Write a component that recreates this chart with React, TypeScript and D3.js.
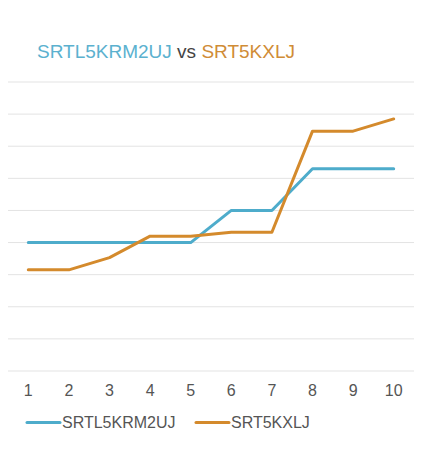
import { useEffect, useRef } from 'react';
import * as d3 from 'd3';

const categories = ['1', '2', '3', '4', '5', '6', '7', '8', '9', '10'];
const seriesA = [4, 4, 4, 4, 4, 5, 5, 6.3, 6.3, 6.3];
const seriesB = [3.15, 3.15, 3.53, 4.2, 4.2, 4.32, 4.32, 7.47, 7.47, 7.85];
const seriesNames = ['SRTL5KRM2UJ', 'SRT5KXLJ'];
const seriesColors = ['#4eaccb', '#d48a2c'];
const gridTicks = d3.range(0, 10);

export default function App() {
  const ref = useRef<SVGSVGElement>(null);

  useEffect(() => {
    if (!ref.current) return;
    const svg = d3.select(ref.current);
    svg.selectAll('*').remove();

    const width = 442;
    const height = 467;
    const font = '"Liberation Sans", Arial, sans-serif';

    const x = d3.scaleBand().domain(categories).range([8, 414]);
    const y = d3.scaleLinear().domain([0, 9]).range([371, 82]);

    svg.attr('width', width).attr('height', height);
    svg.append('rect').attr('width', width).attr('height', height).attr('fill', '#fff');

    // titulo
    const title = svg.append('text')
      .attr('x', 37)
      .attr('y', 58)
      .style('font-family', font)
      .style('font-size', '19px');
    title.append('tspan').attr('fill', '#5bb1cf').text(seriesNames[0]);
    title.append('tspan').attr('fill', '#444').text(' vs ');
    title.append('tspan').attr('fill', '#d08c36').text(seriesNames[1]);

    // lineas de grilla
    svg.append('g')
      .selectAll('line')
      .data(gridTicks)
      .enter()
      .append('line')
      .attr('x1', 8)
      .attr('x2', 414)
      .attr('y1', d => y(d))
      .attr('y2', d => y(d))
      .attr('stroke', '#e3e3e3')
      .attr('stroke-width', 1);

    // eje X
    svg.append('g')
      .selectAll('text')
      .data(categories)
      .enter()
      .append('text')
      .attr('x', d => x(d)! + x.bandwidth() / 2)
      .attr('y', 396)
      .attr('text-anchor', 'middle')
      .style('font-family', font)
      .style('font-size', '16px')
      .attr('fill', '#555')
      .text(d => d);

    const line = d3.line<number>()
      .x((_, i) => x(categories[i])! + x.bandwidth() / 2)
      .y(d => y(d));

    [seriesA, seriesB].forEach((s, i) => {
      svg.append('path')
        .datum(s)
        .attr('d', line)
        .attr('fill', 'none')
        .attr('stroke', seriesColors[i])
        .attr('stroke-width', 3)
        .attr('stroke-linejoin', 'round')
        .attr('stroke-linecap', 'round');
    });

    // leyenda
    const legendX = [27, 196];
    seriesNames.forEach((name, i) => {
      const g = svg.append('g').attr('transform', `translate(${legendX[i]},0)`);
      g.append('line')
        .attr('x1', 0)
        .attr('x2', 33)
        .attr('y1', 422.5)
        .attr('y2', 422.5)
        .attr('stroke', seriesColors[i])
        .attr('stroke-width', 3)
        .attr('stroke-linecap', 'round');
      g.append('text')
        .attr('x', 35)
        .attr('y', 428)
        .style('font-family', font)
        .style('font-size', '16px')
        .attr('fill', '#555')
        .text(name);
    });
  }, []);

  return <svg ref={ref} style={{ position: 'absolute', left: 0, top: 0 }} />;
}
